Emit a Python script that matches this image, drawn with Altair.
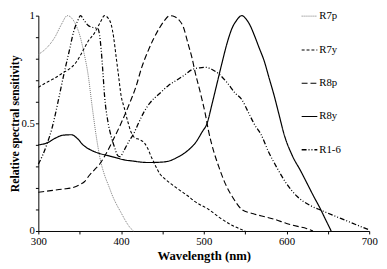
import altair as alt
import pandas as pd

series_names = ["R7p", "R7y", "R8p", "R8y", "R1-6"]

r7p_wl = [300, 310, 320, 328, 335, 340, 345, 350, 355, 360, 365, 370, 375, 380, 385, 390, 395, 400, 405, 410, 415]
r7p_v = [0.82, 0.85, 0.90, 0.96, 1.0, 0.99, 0.96, 0.91, 0.83, 0.73, 0.58, 0.44, 0.33, 0.26, 0.21, 0.16, 0.12, 0.085, 0.05, 0.02, 0.0]

r7y_wl = [300, 310, 320, 330, 340, 345, 350, 355, 360, 368, 375, 380, 385, 388, 391, 394, 397, 400, 404, 408, 412, 416, 422, 428, 432, 437, 442, 447, 452, 460, 467, 480, 490, 506, 520, 534, 550]
r7y_v = [0.667, 0.69, 0.71, 0.735, 0.76, 0.78, 0.81, 0.845, 0.88, 0.92, 0.97, 1.0, 0.985, 0.96, 0.9, 0.81, 0.72, 0.63, 0.57, 0.51, 0.46, 0.435, 0.425, 0.41, 0.385, 0.34, 0.30, 0.265, 0.245, 0.22, 0.20, 0.165, 0.135, 0.10, 0.06, 0.027, 0.0]

r8p_wl = [300, 310, 320, 330, 340, 350, 356, 362, 368, 374, 382, 390, 400, 410, 418, 425, 432, 439, 446, 452, 459, 465, 470, 475, 481, 486, 490, 496, 502, 506, 512, 518, 526, 536, 546, 560, 575, 585, 600, 615, 624, 632]
r8p_v = [0.18, 0.185, 0.19, 0.195, 0.20, 0.215, 0.23, 0.26, 0.285, 0.31, 0.36, 0.42, 0.50, 0.59, 0.67, 0.76, 0.83, 0.89, 0.94, 0.975, 1.0, 0.995, 0.98, 0.95, 0.87, 0.80, 0.73, 0.64, 0.54, 0.46, 0.37, 0.30, 0.22, 0.15, 0.10, 0.08, 0.065, 0.055, 0.035, 0.02, 0.012, 0.0]

r8y_wl = [300, 311, 320, 330, 340, 347, 354, 364, 374, 384, 394, 404, 414, 424, 433, 449, 458, 467, 476, 484, 490, 498, 504, 510, 516, 522, 528, 534, 540, 546, 551, 556, 561, 567, 573, 579, 585, 591, 597, 607, 617, 625, 633, 640, 647, 654]
r8y_v = [0.40, 0.41, 0.43, 0.445, 0.447, 0.43, 0.40, 0.375, 0.36, 0.35, 0.34, 0.33, 0.325, 0.32, 0.318, 0.32, 0.325, 0.34, 0.36, 0.385, 0.41, 0.46, 0.50, 0.59, 0.685, 0.78, 0.87, 0.94, 0.98, 1.0, 0.985, 0.955, 0.91, 0.85, 0.79, 0.71, 0.63, 0.54, 0.45, 0.35, 0.28, 0.22, 0.16, 0.11, 0.055, 0.0]

r16_wl = [300, 305, 311, 316, 321, 326, 331, 337, 343, 348, 351, 355, 360, 366, 372, 374, 376, 378, 380, 384, 388, 392, 396, 399, 403, 410, 415, 421, 428, 435, 447, 457, 467, 477, 486, 495, 502, 510, 518, 528, 538, 546, 554, 562, 569, 578, 589, 600, 613, 628, 644, 658, 671, 685, 700]
r16_v = [0.31, 0.35, 0.41, 0.47, 0.55, 0.64, 0.73, 0.83, 0.93, 0.98, 1.0, 0.98, 0.955, 0.945, 0.94, 0.91, 0.84, 0.74, 0.63, 0.51, 0.44, 0.39, 0.35, 0.345, 0.37, 0.42, 0.45, 0.50, 0.555, 0.595, 0.64, 0.675, 0.70, 0.725, 0.75, 0.758, 0.76, 0.75, 0.73, 0.69, 0.64, 0.61, 0.55, 0.49, 0.45, 0.37, 0.29, 0.22, 0.16, 0.12, 0.093, 0.07, 0.05, 0.028, 0.005]

x_ticks = [300, 350, 400, 450, 500, 550, 600, 650, 700]
y_ticks = [0, 0.1, 0.2, 0.3, 0.4, 0.5, 0.6, 0.7, 0.8, 0.9, 1]

all_series = [
    ("R7p", r7p_wl, r7p_v),
    ("R7y", r7y_wl, r7y_v),
    ("R8p", r8p_wl, r8p_v),
    ("R8y", r8y_wl, r8y_v),
    ("R1-6", r16_wl, r16_v),
]
rows = []
for name, wl, vals in all_series:
    for w, v in zip(wl, vals):
        rows.append({"series": name, "wavelength": w, "value": v})
df = pd.DataFrame(rows)

dashes = [[1, 1], [3, 2], [6, 3], [1, 0], [5, 2, 1, 2, 1, 2]]
colors = ["#777777", "#000000", "#000000", "#000000", "#000000"]
widths = [1.0, 1.3, 1.3, 1.5, 1.1]

FONT = "Liberation Serif"
leg = alt.Legend(
    title=None, orient="none", legendX=268, legendY=-8,
    symbolType="stroke", symbolSize=256, symbolStrokeWidth=1.5,
    labelFont=FONT, labelFontSize=11, labelColor="black",
    rowPadding=20, labelOffset=1,
)

chart = alt.Chart(df).mark_line(interpolate="monotone").encode(
    x=alt.X("wavelength:Q",
            scale=alt.Scale(domain=[300, 700], nice=False),
            axis=alt.Axis(values=x_ticks, format="d",
                          labelExpr="datum.value % 100 == 0 ? datum.label : ''",
                          title="Wavelength (nm)")),
    y=alt.Y("value:Q",
            scale=alt.Scale(domain=[0, 1], nice=False),
            axis=alt.Axis(values=y_ticks, format="~g",
                          labelExpr="(datum.value == 0 || datum.value == 0.5 || datum.value == 1) ? datum.label : ''",
                          title="Relative spectral sensitivity")),
    color=alt.Color("series:N", scale=alt.Scale(domain=series_names, range=colors), legend=leg),
    strokeDash=alt.StrokeDash("series:N", scale=alt.Scale(domain=series_names, range=dashes), legend=leg),
    strokeWidth=alt.StrokeWidth("series:N", scale=alt.Scale(domain=series_names, range=widths), legend=None),
    order=alt.Order("wavelength:Q"),
).properties(
    width=338, height=220,
    autosize=alt.AutoSizeParams(type="none"),
    padding={"left": 31, "top": 5, "right": 10, "bottom": 36},
).configure_view(stroke=None).configure_axis(
    grid=False, domainColor="black", domainWidth=1, tickColor="black", tickSize=3,
    labelFont=FONT, labelFontSize=11, labelColor="black", labelPadding=2,
    labelFlush=False, labelOverlap=False,
    titleFont=FONT, titleFontWeight="bold", titleColor="black",
).configure_axisX(titleFontSize=13, titlePadding=3).configure_axisY(titleFontSize=12, titlePadding=0, labelPadding=1)

chart.save("out.html", embed_options={"renderer": "svg", "actions": False})
